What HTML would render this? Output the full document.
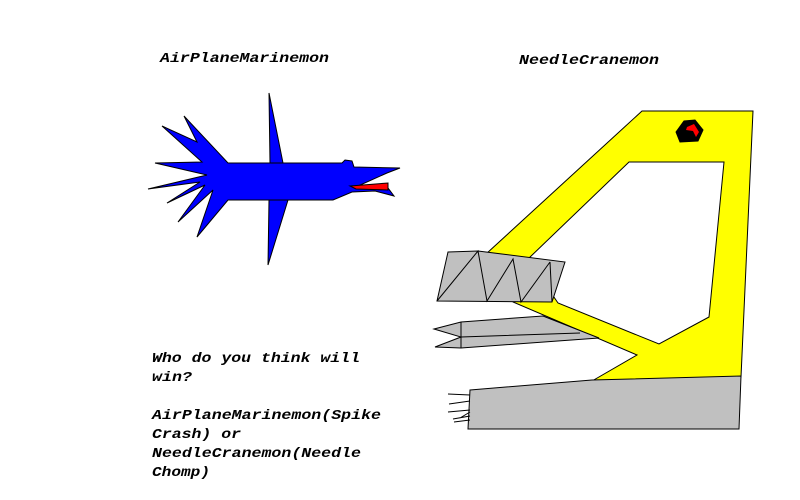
<!DOCTYPE html>
<html><head><meta charset="utf-8"><style>html,body{margin:0;padding:0;background:#fff;width:800px;height:500px;overflow:hidden}</style></head>
<body>
<svg width="800" height="500" viewBox="0 0 800 500" xmlns="http://www.w3.org/2000/svg">
<g font-family="Liberation Mono, monospace" font-weight="bold" font-style="italic" font-size="14" fill="#000">
<text x="160" y="62" textLength="169" lengthAdjust="spacingAndGlyphs">AirPlaneMarinemon</text>
<text x="519" y="64" textLength="140" lengthAdjust="spacingAndGlyphs">NeedleCranemon</text>
<text x="152" y="362" textLength="208" lengthAdjust="spacingAndGlyphs">Who do you think will</text>
<text x="152" y="381" textLength="40" lengthAdjust="spacingAndGlyphs">win?</text>
<text x="152" y="419" textLength="229" lengthAdjust="spacingAndGlyphs">AirPlaneMarinemon(Spike</text>
<text x="152" y="438" textLength="89" lengthAdjust="spacingAndGlyphs">Crash) or</text>
<text x="152" y="457" textLength="209" lengthAdjust="spacingAndGlyphs">NeedleCranemon(Needle</text>
<text x="152" y="476" textLength="58" lengthAdjust="spacingAndGlyphs">Chomp)</text>
</g>
<!-- fish -->
<g stroke="#000" stroke-width="1" fill="#0000ff">
<polygon points="269,93 283,163 270,163"/>
<polygon points="268,265 288,200 269,200"/>
<polygon points="162,126 197,142 184,116 228,163 342,163 345,160 352,161 354,167 400,168 387,173 358,186 388,188 394,196 375,191 352,192 333,200 228,200 197,237 213,190 178,222 205,185 167,203 200,182 148,189 207,175 155,163 202,162"/>
<polygon points="350,186 388,183 388,190 356,189" fill="#ff0000"/>
</g>
<!-- crane -->
<g stroke="#000" stroke-width="1">
<polygon points="642,111 753,111 741,377 592,381 637,355 513,302 486,254" fill="#ffff00"/>
<polygon points="629,162 724,162 709,317 659,344 558,303 528,259" fill="#fff"/>
<path d="M676,132 L684,121 L695,120 L703,130 L698,141 L680,142 Z" fill="#000"/>
<path d="M687,127 L694,124 L699,132 L696,137 L693,131 L686,130 Z" fill="#ff0000" stroke="none"/>
<polygon points="448,252 478,251 565,262 552,302 437,301" fill="#c0c0c0"/>
<path d="M437,301 L478,251 L487,301 L513,259 L521,302 L550,262 M478,251 L487,301 M513,259 L521,302 M550,262 L552,302" fill="none"/>
<polygon points="434,329 461,322 543,316 599,338 461,348 435,347 461,337" fill="#c0c0c0"/>
<path d="M461,322 L461,348 M461,337 L580,333" fill="none"/>
<polygon points="470,390 592,380 741,376 739,429 468,429" fill="#c0c0c0"/>
<path d="M470,395 L448,394 M470,401 L449,404 M470,410 L448,412 M470,416 L453,419 M470,420 L454,422 M470,412 L460,418" fill="none"/>
</g>
</svg>
</body></html>
